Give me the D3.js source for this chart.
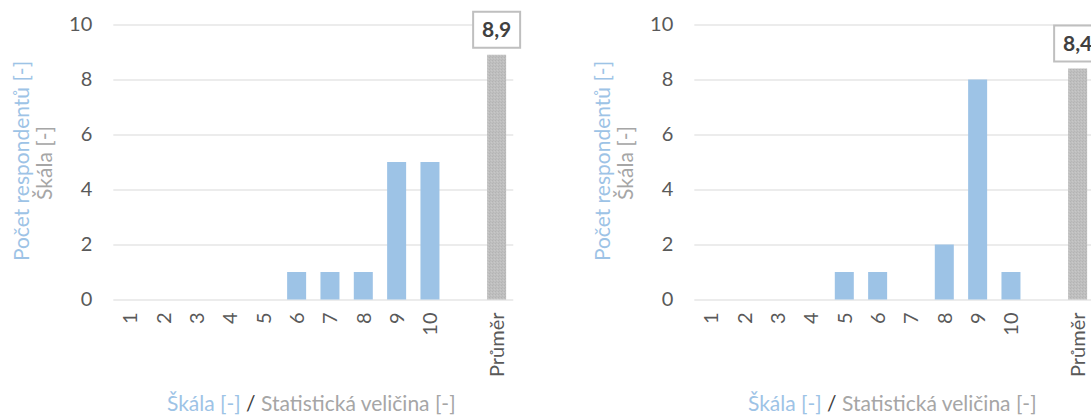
<!DOCTYPE html>
<html>
<head>
<meta charset="utf-8">
<script src="https://cdn.jsdelivr.net/npm/d3@7"></script>
<style>
  html, body { margin: 0; padding: 0; background: #ffffff; overflow: hidden; }
  svg { display: block; font-family: Lato, "Open Sans", sans-serif; }
</style>
</head>
<body>
<svg id="chart" width="1091" height="417"></svg>
<script>
// ---- data ----
const categories = ["1", "2", "3", "4", "5", "6", "7", "8", "9", "10", "", "Průměr"];
const scaleLabels = ["1", "2", "3", "4", "5", "6", "7", "8", "9", "10"];
const leftCounts = [0, 0, 0, 0, 0, 1, 1, 1, 5, 5];
const leftMean = 8.9;
const leftMeanLabel = "8,9";
const rightCounts = [0, 0, 0, 0, 1, 1, 0, 2, 8, 1];
const rightMean = 8.4;
const rightMeanLabel = "8,4";
const yTicks = [0, 2, 4, 6, 8, 10];
const yTitleBlue = "Počet respondentů [-]";
const yTitleGray = "Škála [-]";
const xTitleBlue = "Škála [-]";
const xTitleSep = " / ";
const xTitleGray = "Statistická veličina [-]";

// ---- styles ----
const BLUE = "#9dc3e6";
const GRAY_BAR = "#bfbfbf";
const GRID = "#d9d9d9";
const TICK_TXT = "#595959";
const TITLE_GRAY = "#a6a6a6";

const svg = d3.select("#chart");

// texture for the mean bar
const defs = svg.append("defs");
const pat = defs.append("pattern").attr("id", "stipple")
  .attr("width", 3).attr("height", 3).attr("patternUnits", "userSpaceOnUse");
pat.append("rect").attr("width", 3).attr("height", 3).attr("fill", GRAY_BAR);
pat.append("rect").attr("x", 0).attr("y", 0).attr("width", 1).attr("height", 1).attr("fill", "#b3b3b3");
pat.append("rect").attr("x", 2).attr("y", 1).attr("width", 1).attr("height", 1).attr("fill", "#c8c8c8");
pat.append("rect").attr("x", 1).attr("y", 2).attr("width", 1).attr("height", 1).attr("fill", "#b7b7b7");

function drawChart(offsetX, counts, mean, meanLabel) {
  const plotLeft = 113.3, plotRight = 513.3;
  const plotTop = 24.5, plotBottom = 299.5;
  const g = svg.append("g").attr("transform", `translate(${offsetX},0)`);

  const x = d3.scaleBand().domain(categories).range([plotLeft, plotRight]).paddingInner(0.43).paddingOuter(0.215);
  const y = d3.scaleLinear().domain([0, 10]).range([plotBottom, plotTop]);

  // y axis with gridlines
  const yAxis = d3.axisLeft(y).tickValues(yTicks)
    .tickSize(-(plotRight - plotLeft)).tickPadding(21).tickFormat(d3.format("d"));
  const ya = g.append("g").attr("transform", `translate(${plotLeft},0)`).call(yAxis);
  ya.select(".domain").remove();
  ya.selectAll(".tick line").attr("stroke", GRID).attr("stroke-width", 1);
  ya.selectAll(".tick text").attr("fill", TICK_TXT).style("font-size", "20px")
    .style("font-family", "Lato, sans-serif");

  // x axis
  const xAxis = d3.axisBottom(x).tickSize(0).tickPadding(0);
  const xa = g.append("g").attr("transform", `translate(0,${plotBottom})`).call(xAxis);
  xa.select(".domain").remove();
  xa.selectAll(".tick text")
    .attr("fill", TICK_TXT).style("font-size", "20px").style("font-family", "Lato, sans-serif")
    .attr("text-anchor", "end")
    .attr("transform", "translate(0,13) rotate(-90)")
    .attr("x", 0).attr("y", 0).attr("dy", "0.36em");

  // count bars
  const rows = scaleLabels.map((c, i) => ({ c, v: counts[i] }));
  g.selectAll(".bar").data(rows.filter(d => d.v > 0)).enter().append("rect")
    .attr("x", d => x(d.c)).attr("width", x.bandwidth())
    .attr("y", d => y(d.v)).attr("height", d => y(0) - y(d.v))
    .attr("fill", BLUE);

  // mean bar
  const mx = x("Průměr");
  g.append("rect").attr("x", mx).attr("width", x.bandwidth())
    .attr("y", y(mean)).attr("height", y(0) - y(mean)).attr("fill", "url(#stipple)");

  // mean label box
  const cx = mx + x.bandwidth() / 2;
  const bw = 47, bh = 36;
  const by = y(mean) - 7 - bh;
  g.append("rect").attr("x", cx - bw / 2).attr("y", by).attr("width", bw).attr("height", bh)
    .attr("fill", "#ffffff").attr("stroke", "#bfbfbf").attr("stroke-width", 2);
  g.append("text").attr("x", cx).attr("y", by + bh / 2).attr("dy", "0.36em")
    .attr("text-anchor", "middle").attr("fill", "#404040")
    .style("font-size", "21px").style("font-weight", "bold").text(meanLabel);

  // y titles
  g.append("text").attr("transform", "translate(29,161) rotate(-90)")
    .attr("text-anchor", "middle").attr("fill", BLUE).style("font-size", "21px").text(yTitleBlue);
  g.append("text").attr("transform", "translate(52,163) rotate(-90)")
    .attr("text-anchor", "middle").attr("fill", TITLE_GRAY).style("font-size", "21px").text(yTitleGray);

  // x title
  const xt = g.append("text").attr("x", (plotLeft + plotRight) / 2 - 2).attr("y", 411)
    .attr("text-anchor", "middle").style("font-size", "21px");
  xt.append("tspan").attr("fill", BLUE).text(xTitleBlue);
  xt.append("tspan").attr("fill", "#404040").text(xTitleSep);
  xt.append("tspan").attr("fill", TITLE_GRAY).text(xTitleGray);
}

drawChart(0, leftCounts, leftMean, leftMeanLabel);
drawChart(581, rightCounts, rightMean, rightMeanLabel);
</script>
</body>
</html>
